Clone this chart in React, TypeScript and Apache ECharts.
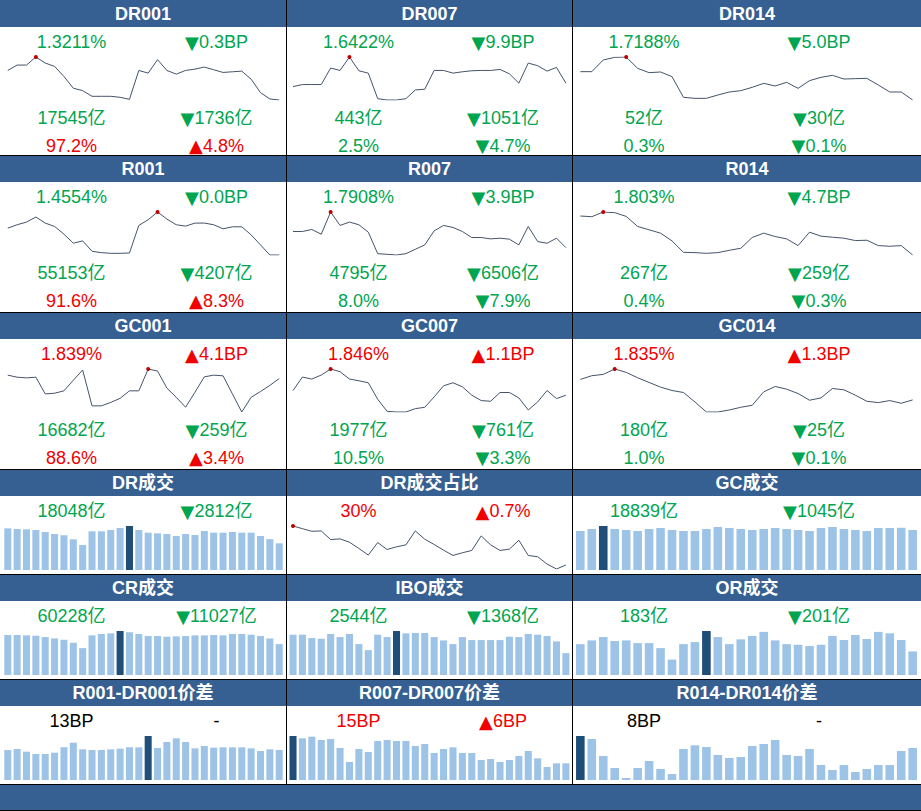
import React, { useEffect, useRef } from "react";
import * as echarts from "echarts";

// ---------- data ----------
const days = Array.from({ length: 30 }, (_, i) => `T${i + 1}`);

const dr001 = [1.4091,1.4251,1.4251,1.4491,1.4311,1.4211,1.3911,1.3561,1.3491,1.3321,1.3321,1.3321,1.3291,1.3231,1.4091,1.4011,1.4411,1.4091,1.3981,1.4091,1.4131,1.4191,1.4111,1.4031,1.4051,1.4071,1.3831,1.3431,1.3241,1.3211];
const dr007 = [1.6212,1.6338,1.6338,1.6338,1.7367,1.7220,1.8060,1.7199,1.7052,1.5456,1.5372,1.5372,1.5456,1.6002,1.6044,1.7220,1.7220,1.7052,1.7136,1.7199,1.7220,1.7220,1.7283,1.7010,1.6422,1.7682,1.7514,1.7178,1.7409,1.6422];
const dr014 = [1.8959,1.8959,1.9688,1.9854,1.9875,1.9167,1.8896,1.8938,1.8646,1.7355,1.7292,1.7292,1.7500,1.7688,1.7771,1.7980,1.8230,1.8063,1.8292,1.7917,1.8396,1.8604,1.8729,1.8500,1.8521,1.8542,1.8125,1.7688,1.7688,1.7188];
const r001 = [1.5754,1.5904,1.6024,1.6249,1.5979,1.5829,1.5484,1.5079,1.5184,1.4719,1.4659,1.4629,1.4629,1.4644,1.5874,1.6129,1.6474,1.6159,1.5904,1.5844,1.5979,1.5979,1.5904,1.5724,1.5814,1.5814,1.5454,1.5004,1.4554,1.4554];
const r007 = [1.8580,1.8580,1.8664,1.8468,1.9392,1.8832,1.8972,1.8860,1.8552,1.7656,1.7628,1.7600,1.7656,1.7838,1.8020,1.8608,1.8832,1.8748,1.8580,1.8328,1.8328,1.8272,1.8300,1.8258,1.8020,1.8790,1.8160,1.8090,1.8300,1.7908];
const r014 = [1.9979,1.9945,2.0180,2.0147,1.9962,1.9458,1.9290,1.9122,1.8736,1.8164,1.8148,1.8114,1.8148,1.8265,1.8366,1.8904,1.9122,1.8954,1.8836,1.8500,1.9172,1.8971,1.8920,1.8870,1.8752,1.8769,1.8500,1.8467,1.8500,1.8030];
const gc001 = [1.8595,1.8472,1.8431,1.8472,1.7468,1.7509,1.7652,1.8288,1.8903,1.6750,1.6750,1.6955,1.7201,1.7652,1.7652,1.8964,1.8841,1.7816,1.7263,1.6668,1.7570,1.8493,1.8595,1.8554,1.7468,1.6381,1.7263,1.7611,1.7980,1.8390];
const gc007 = [1.8614,1.9054,1.8988,1.9120,1.9318,1.9230,1.8988,1.8933,1.8867,1.8328,1.7932,1.7910,1.7910,1.8020,1.8064,1.8405,1.8768,1.8867,1.8735,1.8460,1.8284,1.8262,1.8548,1.8548,1.8372,1.7975,1.8240,1.8614,1.8350,1.8460];
const gc014 = [1.9143,1.9286,1.9338,1.9546,1.9416,1.9208,1.9026,1.8844,1.8714,1.8636,1.8272,1.7882,1.7882,1.7960,1.8064,1.8142,1.8662,1.8870,1.8766,1.8597,1.8337,1.8428,1.8792,1.8740,1.8532,1.8298,1.8246,1.8324,1.8220,1.8350];
const drShare = [36.88,36.41,35.95,36.01,34.49,34.61,34.02,32.92,31.75,33.96,32.74,33.21,33.56,36.01,34.55,33.62,32.62,31.69,32.16,32.57,35.13,33.56,32.57,32.80,34.37,31.69,31.46,30.17,29.30,30.00];

const drVol = [28170,27716,27493,27040,25688,24336,23437,20733,16900,26141,26141,27040,28392,29744,27040,25235,24789,24336,22984,24336,23660,26364,25235,25235,25688,25235,25235,22984,20860,18048];
const gcVol = [18369,19311,20724,19311,18840,18369,19311,19782,18840,18369,18369,19311,20253,19782,19311,18840,19311,19782,19311,18840,18369,19782,20253,19311,18840,18369,19782,19782,19884,18839];
const crVol = [77910,77910,77250,76600,73980,71360,68740,62850,52370,77250,79870,81180,85770,83140,79870,75940,75940,74630,75290,75940,77250,77250,77910,77250,79870,79870,78560,75940,71255,60228];
const iboVol = [4696,4696,4305,4226,4775,4422,4775,3601,2896,4696,4422,5127,4852,4892,4892,4422,4030,3601,4422,4070,4070,4070,4070,4461,4422,4775,4696,4540,3912,2544];
const orVol = [240,269,295,264,269,248,248,209,120,240,256,342,295,240,277,303,335,269,240,235,225,235,303,272,311,280,335,324,272,183];
const spread001 = [13.0,13.43,12.28,11.27,11.27,11.84,14.16,16.18,13.29,13.0,13.0,13.29,13.58,14.16,14.16,19.07,13.87,16.47,18.06,16.47,13.72,14.73,14.01,14.16,14.16,14.16,13.72,12.57,13.29,13.0];
const spread007 = [39.6,37.5,39.0,36.0,36.9,28.8,16.2,27.9,25.2,35.1,36.0,35.1,35.1,30.6,32.4,24.3,27.9,29.4,24.3,24.3,18.0,18.9,16.2,18.0,21.6,26.1,19.5,11.7,15.0,15.0];
const spread014 = [11.0,10.25,6.0,3.0,0.5,3.0,4.75,2.75,1.5,7.75,8.67,8.25,6.25,5.5,5.75,8.5,9.0,10.0,6.25,6.0,7.75,3.75,2.5,3.75,2.0,2.75,3.75,3.75,7.25,8.0];

// text rows: [left, leftTone, right, rightTone]   tone: g = down/green, r = up/red, k = neutral
type TextRow = [string, string, string, string];
type Panel = { title: string; kind: "line" | "bar"; data: number[]; texts: TextRow[] };

const panels: Panel[][] = [
  [
    { title: "DR001", kind: "line", data: dr001, texts: [["1.3211%", "g", "▼0.3BP", "g"], ["17545亿", "g", "▼1736亿", "g"], ["97.2%", "r", "▲4.8%", "r"]] },
    { title: "DR007", kind: "line", data: dr007, texts: [["1.6422%", "g", "▼9.9BP", "g"], ["443亿", "g", "▼1051亿", "g"], ["2.5%", "g", "▼4.7%", "g"]] },
    { title: "DR014", kind: "line", data: dr014, texts: [["1.7188%", "g", "▼5.0BP", "g"], ["52亿", "g", "▼30亿", "g"], ["0.3%", "g", "▼0.1%", "g"]] },
  ],
  [
    { title: "R001", kind: "line", data: r001, texts: [["1.4554%", "g", "▼0.0BP", "g"], ["55153亿", "g", "▼4207亿", "g"], ["91.6%", "r", "▲8.3%", "r"]] },
    { title: "R007", kind: "line", data: r007, texts: [["1.7908%", "g", "▼3.9BP", "g"], ["4795亿", "g", "▼6506亿", "g"], ["8.0%", "g", "▼7.9%", "g"]] },
    { title: "R014", kind: "line", data: r014, texts: [["1.803%", "g", "▼4.7BP", "g"], ["267亿", "g", "▼259亿", "g"], ["0.4%", "g", "▼0.3%", "g"]] },
  ],
  [
    { title: "GC001", kind: "line", data: gc001, texts: [["1.839%", "r", "▲4.1BP", "r"], ["16682亿", "g", "▼259亿", "g"], ["88.6%", "r", "▲3.4%", "r"]] },
    { title: "GC007", kind: "line", data: gc007, texts: [["1.846%", "r", "▲1.1BP", "r"], ["1977亿", "g", "▼761亿", "g"], ["10.5%", "g", "▼3.3%", "g"]] },
    { title: "GC014", kind: "line", data: gc014, texts: [["1.835%", "r", "▲1.3BP", "r"], ["180亿", "g", "▼25亿", "g"], ["1.0%", "g", "▼0.1%", "g"]] },
  ],
  [
    { title: "DR成交", kind: "bar", data: drVol, texts: [["18048亿", "g", "▼2812亿", "g"]] },
    { title: "DR成交占比", kind: "line", data: drShare, texts: [["30%", "r", "▲0.7%", "r"]] },
    { title: "GC成交", kind: "bar", data: gcVol, texts: [["18839亿", "g", "▼1045亿", "g"]] },
  ],
  [
    { title: "CR成交", kind: "bar", data: crVol, texts: [["60228亿", "g", "▼11027亿", "g"]] },
    { title: "IBO成交", kind: "bar", data: iboVol, texts: [["2544亿", "g", "▼1368亿", "g"]] },
    { title: "OR成交", kind: "bar", data: orVol, texts: [["183亿", "g", "▼201亿", "g"]] },
  ],
  [
    { title: "R001-DR001价差", kind: "bar", data: spread001, texts: [["13BP", "k", "-", "k"]] },
    { title: "R007-DR007价差", kind: "bar", data: spread007, texts: [["15BP", "r", "▲6BP", "r"]] },
    { title: "R014-DR014价差", kind: "bar", data: spread014, texts: [["8BP", "k", "-", "k"]] },
  ],
];

// ---------- layout / style ----------
const W = 921;
const H = 811;
const ROW_TOPS = [0, 155, 312, 469, 574, 679];
const BOTTOM = 784;
const COLS = [
  { x: 0, w: 286, gl: 3.1, gw: 280.8, lc: 71.5, rc: 216.5 },
  { x: 287, w: 285, gl: 288.3, gw: 282.3, lc: 71.5, rc: 216 },
  { x: 573, w: 348, gl: 574.6, gw: 343.8, lc: 71, rc: 246 },
];
const TEXT_Y = [42, 118, 145.5];
const HEADER = "#366092";
const TONE: Record<string, string> = { g: "#00a550", r: "#f00000", k: "#000000" };
const FONT = '"Liberation Sans", Arial, "Noto Sans CJK SC", sans-serif';
const TRI_FONT = '"DejaVu Sans", sans-serif';
const LINE_COLOR = "#44546a";
const BAR_LIGHT = "#9dc3e6";
const BAR_DARK = "#1f4e79";

function buildOption() {
  const grid: any[] = [];
  const xAxis: any[] = [];
  const yAxis: any[] = [];
  const series: any[] = [];
  const graphic: any[] = [];

  const txt = (text: string, x: number, y: number, color: string, size: number, bold = false) => {
    let t = text;
    const rich: any = {
      tri: { fontSize: 18, fontFamily: TRI_FONT, fill: color, color, verticalAlign: "middle" },
      n: { fontSize: size, fontFamily: FONT, fill: color, color, verticalAlign: "middle" },
    };
    const hasTri = t.startsWith("▼") || t.startsWith("▲");
    if (hasTri) t = `{tri|${t[0]}}{n|${t.slice(1)}}`;
    return {
      type: "text",
      silent: true,
      z: 10,
      style: {
        text: t, x, y, fill: color,
        fontSize: size, fontFamily: FONT, fontWeight: bold ? "bold" : "normal",
        align: "center", verticalAlign: "middle",
        textAlign: "center", textVerticalAlign: "middle",
        ...(hasTri ? { rich } : {}),
      },
    };
  };

  panels.forEach((row, ri) => {
    const T = ROW_TOPS[ri];
    row.forEach((p, ci) => {
      const c = COLS[ci];
      const idx = grid.length;
      const isLine = p.kind === "line";
      grid.push({ left: c.gl, top: T + 57, width: c.gw, height: isLine ? 43 : 44, containLabel: false });
      xAxis.push({ type: "category", gridIndex: idx, data: days, show: false, boundaryGap: true });
      yAxis.push({
        type: "value", gridIndex: idx, show: false, scale: isLine,
        min: isLine ? "dataMin" : 0, max: "dataMax", splitLine: { show: false },
      });
      if (isLine) {
        series.push({
          type: "line", xAxisIndex: idx, yAxisIndex: idx, data: p.data,
          symbol: "none", silent: true,
          lineStyle: { color: LINE_COLOR, width: 1 },
          markPoint: {
            symbol: "circle", symbolSize: 4, silent: true,
            label: { show: false },
            itemStyle: { color: "#c00000" },
            data: [{ type: "max" }],
          },
        });
      } else {
        const mx = Math.max(...p.data);
        const mi = p.data.indexOf(mx);
        series.push({
          type: "bar", xAxisIndex: idx, yAxisIndex: idx, silent: true,
          barWidth: "75%",
          itemStyle: { color: BAR_LIGHT },
          data: p.data.map((v, i) => (i === mi ? { value: v, itemStyle: { color: BAR_DARK } } : v)),
        });
      }
      // header
      graphic.push({
        type: "rect", silent: true, z: 5,
        shape: { x: c.x, y: T, width: c.w, height: 27 },
        style: { fill: HEADER },
      });
      graphic.push(txt(p.title, c.x + c.w / 2, T + 14, "#ffffff", 18, true));
      p.texts.forEach((t, ti) => {
        const y = T + TEXT_Y[ti];
        graphic.push(txt(t[0], c.x + c.lc, y, TONE[t[1]], 18));
        graphic.push(txt(t[2], c.x + c.rc, y, TONE[t[3]], 18));
      });
    });
  });

  // bottom bar
  graphic.push({ type: "rect", silent: true, z: 5, shape: { x: 0, y: BOTTOM, width: W, height: H - BOTTOM - 1 }, style: { fill: HEADER } });
  // borders
  [286.5, 572.5].forEach((x) =>
    graphic.push({ type: "line", silent: true, z: 20, shape: { x1: x, y1: 0, x2: x, y2: BOTTOM }, style: { stroke: "#000", lineWidth: 1 } })
  );
  [...ROW_TOPS.slice(1), BOTTOM].forEach((y) =>
    graphic.push({ type: "line", silent: true, z: 20, shape: { x1: 0, y1: y + 0.5, x2: W, y2: y + 0.5 }, style: { stroke: "#000", lineWidth: 1 } })
  );
  graphic.push({ type: "line", silent: true, z: 20, shape: { x1: 0, y1: H - 0.5, x2: W, y2: H - 0.5 }, style: { stroke: "#000", lineWidth: 1 } });

  return {
    animation: false,
    backgroundColor: "#ffffff",
    grid, xAxis, yAxis, series, graphic,
  };
}

export default function App() {
  const ref = useRef<HTMLDivElement>(null);
  useEffect(() => {
    if (!ref.current) return;
    const chart = echarts.init(ref.current, undefined, { renderer: "svg" });
    chart.setOption(buildOption() as any);
    return () => chart.dispose();
  }, []);
  return <div ref={ref} style={{ position: "absolute", left: 0, top: 0, width: W, height: H }} />;
}
